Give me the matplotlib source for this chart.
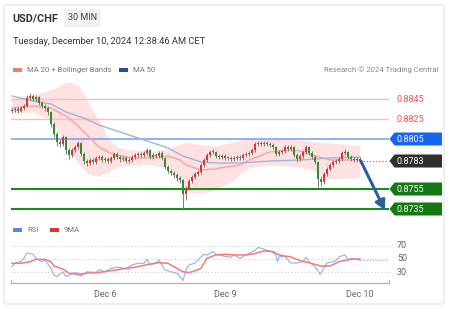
import numpy as np
import matplotlib
matplotlib.use("Agg")
import matplotlib.pyplot as plt
from matplotlib.patches import Polygon, Rectangle, FancyBboxPatch
from matplotlib.transforms import blended_transform_factory

plt.rcParams['font.family'] = ['Roboto', 'DejaVu Sans']

# ---------------- data ----------------
first_open = 8833
closes = [8834, 8835, 8833, 8836, 8838, 8846, 8848, 8845, 8847, 8841,
          8838, 8836, 8832, 8820, 8810, 8802, 8800, 8807, 8794, 8789,
          8794, 8797, 8801, 8790, 8783, 8781, 8784, 8782, 8786, 8787,
          8784, 8785, 8783, 8786, 8790, 8787, 8785, 8786, 8783, 8784,
          8787, 8789, 8790, 8789, 8791, 8794, 8787, 8789, 8788, 8791,
          8786, 8777, 8773, 8771, 8769, 8766, 8764, 8750, 8756, 8763,
          8767, 8770, 8772, 8779, 8784, 8789, 8792, 8792, 8788, 8787,
          8788, 8786, 8786, 8785, 8786, 8787, 8786, 8789, 8790, 8791,
          8794, 8800, 8801, 8800, 8801, 8800, 8799, 8797, 8790, 8792,
          8793, 8797, 8795, 8797, 8789, 8785, 8788, 8792, 8797, 8791,
          8787, 8782, 8765, 8762, 8770, 8775, 8779, 8782, 8783, 8785,
          8791, 8792, 8787, 8785, 8784, 8785, 8783]
highs = [8836, 8837, 8837, 8838, 8840, 8849, 8851, 8850, 8849, 8848,
         8843, 8840, 8838, 8833, 8822, 8812, 8805, 8809, 8808, 8796,
         8796, 8799, 8803, 8802, 8792, 8785, 8786, 8786, 8788, 8789,
         8789, 8787, 8787, 8788, 8792, 8792, 8789, 8788, 8788, 8786,
         8789, 8791, 8792, 8792, 8793, 8796, 8795, 8791, 8791, 8793,
         8793, 8787, 8779, 8775, 8773, 8771, 8768, 8765, 8758, 8765,
         8769, 8772, 8774, 8781, 8786, 8791, 8794, 8795, 8793, 8790,
         8790, 8790, 8788, 8788, 8788, 8789, 8789, 8791, 8792, 8793,
         8796, 8802, 8803, 8803, 8803, 8803, 8802, 8801, 8798, 8794,
         8795, 8799, 8799, 8799, 8798, 8791, 8790, 8794, 8799, 8798,
         8793, 8789, 8783, 8768, 8772, 8777, 8781, 8784, 8785, 8787,
         8793, 8795, 8793, 8789, 8787, 8787, 8787]
lows = [8831, 8832, 8831, 8832, 8834, 8837, 8844, 8843, 8843, 8839,
        8836, 8833, 8829, 8817, 8807, 8798, 8797, 8798, 8790, 8785,
        8787, 8792, 8795, 8788, 8780, 8778, 8779, 8780, 8780, 8784,
        8782, 8782, 8781, 8781, 8784, 8785, 8782, 8783, 8781, 8781,
        8782, 8785, 8787, 8787, 8787, 8789, 8785, 8785, 8786, 8786,
        8784, 8775, 8771, 8769, 8766, 8763, 8761, 8734, 8744, 8754,
        8761, 8765, 8768, 8770, 8777, 8782, 8787, 8790, 8786, 8785,
        8785, 8784, 8784, 8783, 8783, 8784, 8784, 8784, 8787, 8788,
        8789, 8792, 8798, 8798, 8798, 8798, 8797, 8795, 8788, 8788,
        8790, 8791, 8793, 8793, 8787, 8782, 8783, 8786, 8790, 8789,
        8785, 8780, 8757, 8758, 8760, 8768, 8773, 8777, 8780, 8781,
        8783, 8789, 8785, 8783, 8782, 8782, 8781]

# indicators (candle index, price)
ma50_idx = [0, 7, 13, 18, 24, 29, 35, 40, 46, 52, 57, 63, 68, 76, 86, 96, 106, 116]
ma50 = [8848, 8843, 8840, 8832, 8826, 8819, 8813, 8808, 8802, 8796, 8788, 8782,
        8781, 8781, 8783, 8784, 8786, 8787]
bb_idx = [0, 7, 13, 16, 18, 19, 22, 24, 25, 28, 29, 32, 35, 40, 46, 52, 56, 57, 59,
          63, 68, 69, 74, 76, 79, 86, 93, 96, 99, 106, 111, 113, 116]
ma20 = [8836, 8838, 8836, 8831, 8828, 8826, 8818, 8812, 8809, 8800, 8797, 8792,
        8789, 8786, 8786, 8788, 8784, 8781, 8778, 8774, 8775, 8776, 8778, 8779,
        8784, 8792, 8794, 8793, 8790, 8784, 8784, 8784, 8784]
bb_up = [8846, 8849, 8854, 8858, 8862, 8862, 8859, 8850, 8844, 8828, 8824, 8806,
         8797, 8794, 8793, 8795, 8800, 8801, 8802, 8799, 8798, 8799, 8802, 8804,
         8805, 8805, 8805, 8804, 8803, 8801, 8800, 8799, 8799]
bb_lo = [8831, 8832, 8824, 8810, 8801, 8796, 8781, 8775, 8771, 8768, 8768, 8772,
         8777, 8779, 8779, 8776, 8763, 8761, 8752, 8751, 8754, 8756, 8764, 8770,
         8776, 8779, 8778, 8777, 8775, 8765, 8766, 8766, 8767]

# RSI panel (candle index, value)
rsi_idx = [0, 1, 3, 4, 5, 7, 8, 10, 11, 13, 14, 15, 17, 18, 19, 21, 22, 23, 25, 28,
           29, 31, 33, 35, 38, 40, 42, 44, 45, 46, 48, 49, 50, 51, 53, 55, 56, 57, 58,
           59, 61, 63, 64, 65, 67, 68, 69, 71, 73, 74, 76, 78, 79, 81, 82, 83, 85, 86,
           88, 88.5, 89, 91, 92, 93, 95, 97, 98, 99, 101, 102, 102.7, 104, 105, 107,
           108, 109, 111, 112, 113, 115, 116]
rsi = [39, 44, 46, 51, 59, 57, 51, 46, 48.5, 36, 26, 24, 31, 24, 26, 30, 29, 25, 31, 30,
       34, 31, 36, 38, 36, 41, 43.6, 43.6, 49.5, 41, 44, 48.5, 41, 34, 31, 29, 24, 18, 34,
       41, 44, 53, 57, 56, 61, 57, 56, 54, 52.5, 56, 51, 56, 58, 63, 67, 66, 63, 62,
       56, 46, 53, 54, 48.5, 44, 44, 46, 52.5, 46, 38.6, 32.7, 27, 36, 44, 46,
       47.5, 53, 56, 49.5, 51, 49.5, 48]
ma9_idx = [0, 3, 6, 8, 11, 13, 14, 17, 19, 22, 25, 29, 33, 38, 42, 46, 49, 52, 54, 57,
           59, 60, 63, 65, 68, 71, 74, 78, 81, 84, 87, 89, 93, 96, 99, 103, 106, 109,
           113, 116]
ma9 = [43.6, 43.6, 46, 49.5, 49.5, 46, 39.6, 35, 29, 27, 29, 30, 32.7, 36, 38.6, 42.6,
       44.5, 43.6, 38.6, 31, 30, 31, 36, 51, 56, 57, 56, 56, 58, 62, 61, 56, 53, 47.5,
       44.5, 39.6, 39.6, 46, 49.5, 50]

levels = [0.8845, 0.8825, 0.8805, 0.8783, 0.8755, 0.8735]
level_labels = ["0.8845", "0.8825", "0.8805", "0.8783", "0.8755", "0.8735"]
tick_idx = [31, 71, 116]
tick_labels = ["Dec 6", "Dec 9", "Dec 10"]
rsi_levels = [70, 50, 30]

# ---------------- figure ----------------
W, H = 454, 316
fig = plt.figure(figsize=(W / 100, H / 100), dpi=100)
fig.patch.set_facecolor("white")


def rect(x0, y0, x1, y1):
    return [x0 / W, 1 - y1 / H, (x1 - x0) / W, (y1 - y0) / H]


def fx(x):
    return x / W


def fy(y):
    return 1 - y / H


# card
card = FancyBboxPatch((fx(4), fy(304)), fx(444) - fx(4), fy(5) - fy(304),
                      boxstyle="round,pad=0,rounding_size=0.004",
                      transform=fig.transFigure, facecolor="white",
                      edgecolor="#e4e4e4", linewidth=0.8, zorder=-10)
fig.patches.append(card)

p = lambda v: np.asarray(v, dtype=float) / 10000.0
C = p(closes)
O = np.concatenate([[first_open / 10000.0], C[:-1]])
Hh = p(highs)
L = p(lows)
idx = np.arange(len(C))

ax = fig.add_axes(rect(11, 80, 389, 215))
ax.set_xlim(-0.33, 125.7)
ax.set_ylim(0.8729, 0.8864)
ax.axis("off")

# Bollinger band & MAs
bx = np.array(bb_idx)
ax.fill_between(bx, p(bb_lo), p(bb_up), color="#ffe1e1", linewidth=0, zorder=1)
ax.plot(bx, p(ma20), color="#f6a3a3", lw=1.0, zorder=2)
ax.plot(ma50_idx, p(ma50), color="#a4b3d6", lw=1.0, zorder=2)

# level lines
lvl_colors = ["#ffb9b9", "#ffb9b9", "#6f9cf2", None, "#1d8a1d", "#1d8a1d"]
lvl_widths = [1.0, 1.0, 1.1, 0, 1.5, 1.5]
for lv, col, lw in zip(levels, lvl_colors, lvl_widths):
    if col:
        ax.axhline(lv, xmin=0, xmax=1.0, color=col, lw=lw, zorder=1.5)
ax.plot([idx[-1], 125.7], [levels[3], levels[3]], color="#8a8a8a", lw=0.9,
        ls=(0, (1, 1.5)), zorder=3)

# candles
up = C > O
dn = C < O
ax.vlines(idx, L, Hh, color="#7a7a7a", lw=0.7, zorder=3)
body_col = np.where(up, "#e53030", np.where(dn, "#2e8f2e", "#777777"))
heights = np.where(np.abs(C - O) < 0.00005, 0.00008, C - O)
ax.bar(idx, heights, bottom=O, width=0.7, color=body_col, linewidth=0, zorder=4)

# arrow
ax.annotate("", xy=(124.3, levels[5] - 0.0001), xytext=(idx[-1] + 0.3, levels[3]),
            arrowprops=dict(arrowstyle="-|>,head_length=0.55,head_width=0.3",
                            color="#2e5f9e", lw=2.2, shrinkA=0, shrinkB=0),
            zorder=6, annotation_clip=False)

# level labels on the right
tr = blended_transform_factory(ax.transAxes, ax.transData)
xa = lambda px_: (px_ - 11) / 378.0
box_fc = [None, None, "#1764f0", "#2f2f2f", "#137a13", "#137a13"]
half = 0.00065
for lv, lab, fc in zip(levels, level_labels, box_fc):
    if fc is None:
        ax.text(xa(396), lv, lab, transform=tr, color="#ff4d4d", fontsize=6.5,
                va="center", ha="left", clip_on=False)
    else:
        poly = Polygon([(xa(389.5), lv), (xa(394.5), lv + half), (xa(442), lv + half),
                        (xa(442), lv - half), (xa(394.5), lv - half)], closed=True,
                       transform=tr, facecolor=fc, edgecolor="none", clip_on=False,
                       zorder=7)
        ax.add_patch(poly)
        ax.text(xa(396), lv, lab, transform=tr, color="white", fontsize=6.5,
                va="center", ha="left", clip_on=False, zorder=8)

# ---------------- RSI panel ----------------
ax2 = fig.add_axes(rect(11, 236, 389, 283))
ax2.set_xlim(-0.33, 125.7)
ax2.set_ylim(14.4, 84.1)
ax2.patch.set_alpha(0)
for s in ["top", "left", "right"]:
    ax2.spines[s].set_visible(False)
ax2.spines["bottom"].set_color("#b0b0b0")
ax2.spines["bottom"].set_linewidth(0.9)
for lv in rsi_levels:
    ax2.axhline(lv, color="#cfcfcf", lw=0.8, ls=(0, (1, 2)), zorder=1)
ax2.plot(rsi_idx, rsi, color="#9db4f5", lw=0.9, zorder=3)
ax2.plot([rsi_idx[-1], 125.7], [rsi[-1], rsi[-1]], color="#9db4f5", lw=0.9,
         ls=(0, (1, 1.5)), zorder=2)
ax2.plot(ma9_idx, ma9, color="#f47a7a", lw=1.1, zorder=4)
ax2.set_yticks([])
ax2.set_xticks(tick_idx)
ax2.set_xticklabels(tick_labels, fontsize=6.5, color="#666666")
ax2.tick_params(axis="x", length=0, pad=5)
for xe in [0, 1]:
    ax2.plot([xe, xe], [0, 0.07], transform=ax2.transAxes, color="#b0b0b0",
             lw=0.9, clip_on=False)
tr2 = blended_transform_factory(ax2.transAxes, ax2.transData)
for lv in rsi_levels:
    ax2.text(xa(397), lv, str(lv), transform=tr2,
             fontsize=6.5, color="#666666", va="center", ha="left", clip_on=False)

ax.patch.set_alpha(0)

# ---------------- header texts ----------------
fig.text(fx(12), fy(18), "USD/CHF", fontsize=7.8, fontweight="bold", color="#333333",
         va="center", ha="left")
fig.patches.append(FancyBboxPatch((fx(64), fy(27)), fx(101) - fx(64), fy(9) - fy(27),
                                  boxstyle="round,pad=0,rounding_size=0.003",
                                  transform=fig.transFigure, facecolor="#f1f1f1",
                                  edgecolor="none", zorder=-5))
fig.text(fx(82.5), fy(18), "30 MIN", fontsize=6.5, color="#444444", va="center",
         ha="center")
fig.text(fx(13), fy(42), "Tuesday, December 10, 2024 12:38:46 AM CET", fontsize=6.7,
         color="#333333", va="center", ha="left")

# legends
def swatch(x, y, col):
    fig.patches.append(Rectangle((fx(x), fy(y + 1.5)), fx(9), fy(0) - fy(3),
                                 transform=fig.transFigure, facecolor=col,
                                 edgecolor="none", zorder=-5))

swatch(13, 70, "#f47a7a")
fig.text(fx(27), fy(70), "MA 20 + Bollinger Bands", fontsize=5.6, color="#777777",
         va="center", ha="left")
swatch(119, 70, "#2a4f9a")
fig.text(fx(133), fy(70), "MA 50", fontsize=5.6, color="#777777", va="center", ha="left")
fig.text(fx(438), fy(70), "Research \u00a9 2024 Trading Central", fontsize=5.6,
         color="#888888", va="center", ha="right")

swatch(13, 230, "#5b84e8")
fig.text(fx(27), fy(230), "RSI", fontsize=5.6, color="#777777", va="center", ha="left")
swatch(50, 230, "#e83030")
fig.text(fx(64), fy(230), "9MA", fontsize=5.6, color="#777777", va="center", ha="left")

fig.savefig("out.png", dpi=100)
